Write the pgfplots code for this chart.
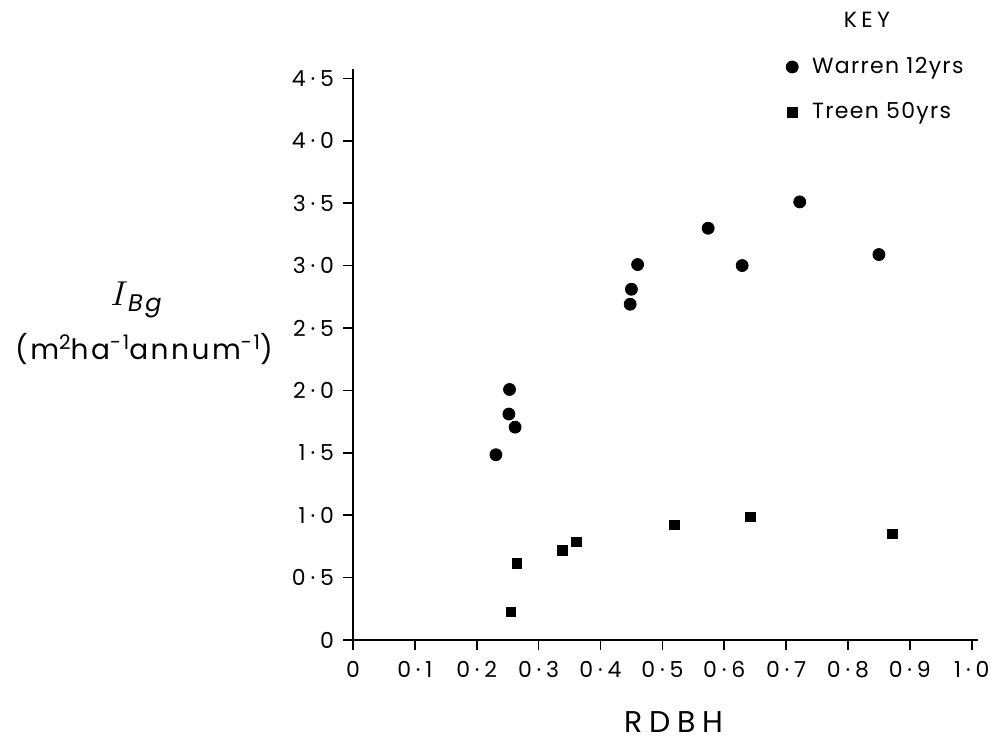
\documentclass[border=0pt]{standalone}
\usepackage{pgfplots}
\pgfplotsset{compat=1.18}
\usepackage{fontspec}
\setmainfont{Poppins}
\begin{document}
\begin{tikzpicture}[x=1pt,y=1pt]
\path (0,0) rectangle (498,371.5);
\begin{axis}[
  at={(176.5pt,51.5pt)}, anchor=south west,
  width=312.5pt, height=285.5pt, scale only axis,
  xmin=0, xmax=1.01, ymin=0, ymax=4.575,
  axis lines=left,
  axis line style={-, line width=0.9pt},
  xtick={0,0.1,0.2,0.3,0.4,0.5,0.6,0.7,0.8,0.9,1.0},
  xticklabels={0,0·1,0·2,0·3,0·4,0·5,0·6,0·7,0·8,0·9,1·0},
  ytick={0,0.5,1,1.5,2,2.5,3,3.5,4,4.5},
  yticklabels={0,0·5,1·0,1·5,2·0,2·5,3·0,3·5,4·0,4·5},
  tick align=outside, major tick length=5pt,
  tick style={line width=0.8pt, black},
  ticklabel style={font=\fontsize{11}{13}\selectfont\addfontfeature{LetterSpace=22}},
  yticklabel style={xshift=-1pt},
  xticklabel style={yshift=-2pt},
  clip=false,
  legend style={at={(0.683,1.035)}, anchor=north west, draw=none, fill=none,
    font=\fontsize{11}{13}\selectfont\addfontfeature{LetterSpace=6}, row sep=9pt,
    /tikz/every odd column/.style={column sep=5pt}},
  legend cell align=left,
]
\addplot[only marks, mark=*, mark size=3pt, black] coordinates {
(0.460,3.008) (0.629,3.000) (0.850,3.088) (0.450,2.810) (0.448,2.690)
(0.253,2.007) (0.252,1.810) (0.262,1.705) (0.231,1.484) (0.574,3.299) (0.722,3.510)
};
\addlegendentry{Warren 12yrs}
\addplot[only marks, mark=square*, mark size=2.4pt, black] coordinates {
(0.255,0.224) (0.265,0.614) (0.338,0.718) (0.361,0.785) (0.519,0.921) (0.642,0.985) (0.872,0.851)
};
\addlegendentry{Treen 50yrs}
\end{axis}
\node[font=\fontsize{11}{13}\selectfont\addfontfeature{LetterSpace=20}] at (433.5,361.5) {KEY};
\node[font=\fontsize{17}{19}\selectfont] at (68,221.5) {$I$\raisebox{-3pt}{\fontsize{12}{14}\selectfont\itshape\addfontfeature{LetterSpace=10}Bg}};
\node[font=\fontsize{14}{16}\selectfont\addfontfeature{LetterSpace=9}] at (72,197) {(m\raisebox{5pt}{\fontsize{10}{12}\selectfont 2}ha\raisebox{5pt}{\fontsize{10}{12}\selectfont -1}annum\raisebox{5pt}{\fontsize{10}{12}\selectfont -1})};
\node[font=\fontsize{15}{17}\selectfont\addfontfeature{LetterSpace=22}, inner sep=0pt, anchor=base] at (337,5) {RDBH};
\end{tikzpicture}
\end{document}
